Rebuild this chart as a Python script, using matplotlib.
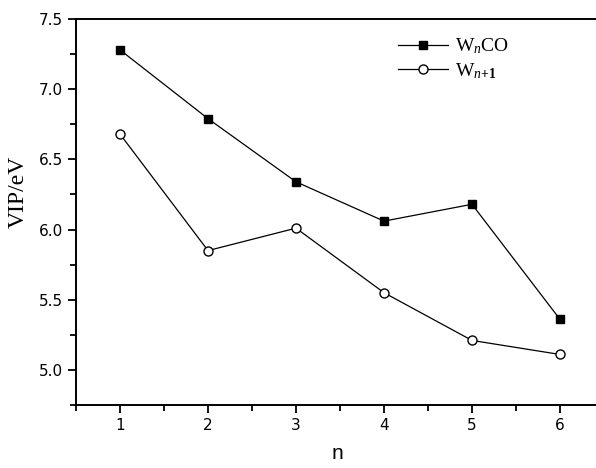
import matplotlib
matplotlib.use("Agg")
import matplotlib.pyplot as plt
from matplotlib.ticker import MultipleLocator

n = [1, 2, 3, 4, 5, 6]
wnco = [7.28, 6.79, 6.34, 6.06, 6.18, 5.36]
wn1 = [6.68, 5.85, 6.01, 5.55, 5.21, 5.11]

plt.rcParams['mathtext.fontset'] = 'custom'
plt.rcParams['mathtext.rm'] = 'Liberation Serif'
plt.rcParams['mathtext.it'] = 'Liberation Serif:italic'
plt.rcParams['mathtext.bf'] = 'Liberation Serif:bold'

fig = plt.figure(figsize=(5.96, 4.68), dpi=100)
ax = fig.add_axes([76/596, 1-405/468, 528/596, 386/468])

ax.plot(n, wnco, color='black', lw=0.9, marker='s', ms=5.2, mfc='black', mec='black',
        label=r'W$_{\mathit{n}}$CO')
ax.plot(n, wn1, color='black', lw=0.9, marker='o', ms=6.5, mfc='white', mec='black',
        label=r'W$_{\mathit{n}\mathbf{+1}}$')

ax.set_xlim(0.5, 6.5)
ax.set_ylim(4.75, 7.5)
ax.xaxis.set_minor_locator(MultipleLocator(0.5))
ax.yaxis.set_minor_locator(MultipleLocator(0.25))
ax.set_xticks([1, 2, 3, 4, 5, 6])
ax.set_yticks([5.0, 5.5, 6.0, 6.5, 7.0, 7.5])
ax.set_yticklabels(['5.0', '5.5', '6.0', '6.5', '7.0', '7.5'])

ax.tick_params(which='major', direction='out', length=6, width=1.3, labelsize=11,
               top=False, right=False)
ax.tick_params(which='minor', direction='out', length=4, width=1.3, top=False, right=False)
for lab in ax.get_xticklabels() + ax.get_yticklabels():
    lab.set_family('DejaVu Sans')
for s in ax.spines.values():
    s.set_linewidth(1.4)

ax.set_ylabel('VIP/eV', family='Liberation Serif', fontsize=17)
ax.yaxis.set_label_coords((29-76)/528, (405-192)/386)
ax.set_xlabel('n', family='Liberation Sans', fontsize=15)
ax.xaxis.set_label_coords((337-76)/528, -0.1)

leg = ax.legend(loc='upper left', bbox_to_anchor=((380-76)/528, 1.0), frameon=False,
                prop={'family': 'Liberation Serif', 'size': 14}, handlelength=2.6,
                handletextpad=0.35, labelspacing=0.25)

fig.savefig('out.png', dpi=100)
